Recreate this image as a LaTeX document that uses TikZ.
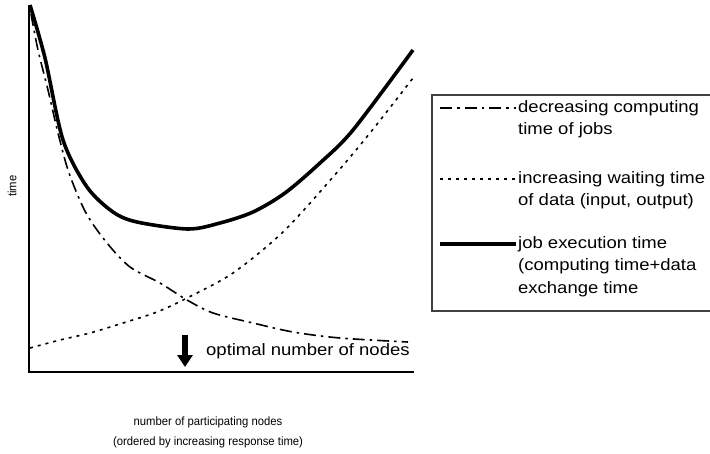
\documentclass[tikz,border=0pt]{standalone}
\usepackage{fontspec}
\setmainfont{Liberation Sans}[FakeStretch=1.12]
\newfontfamily\axisfont{Liberation Sans}[FakeStretch=0.94]
\usetikzlibrary{arrows.meta}

\begin{document}
\begin{tikzpicture}[
    x=1pt, y=-1pt,
    axis/.style={line width=1.8pt},
    computing/.style={line width=1.6pt, dash pattern=on 12pt off 5pt on 2.5pt off 5pt},
    waiting/.style={line width=1.6pt, dash pattern=on 3pt off 5pt},
    execution/.style={line width=3.6pt},
    legtext/.style={anchor=west, align=left, inner sep=0pt, font=\fontsize{16.5}{22.5}\selectfont},
    axlabel/.style={inner sep=0pt, align=center, font=\axisfont\fontsize{12}{20}\selectfont}
]
\useasboundingbox (0,0) rectangle (710,453);

% axes
\coordinate (ytop) at (29,5);
\coordinate (origin) at (29,372);
\coordinate (xend) at (414,372);
\draw[axis] (ytop) -- (origin) -- (xend);
\node[axlabel, rotate=90] (ylabel) at (12,186) {time};
\node[axlabel] (xlabel) at (208,432) {number of participating nodes\\(ordered by increasing response time)};

% curves
\draw[computing] plot[smooth, tension=0.5] coordinates {(31,14) (38,50) (48,90) (58,133) (69,173) (86,213) (107,243) (130,267) (160,283) (187,300) (213,313) (253,323) (293,332) (340,338) (408,342)};
\draw[waiting] plot[smooth, tension=0.5] coordinates {(30,348) (60,340) (90,333) (123,323) (157,312) (187,298) (233,273) (283,232) (333,177) (370,133) (413,78)};
\draw[execution] plot[smooth, tension=0.5] coordinates {(30,5) (45,58) (63,140) (87,187) (113,212) (137,222) (188,229) (220,223) (253,212) (285,193) (320,163) (353,130) (413,50)};

% optimum
\coordinate (arrtop) at (185,335);
\coordinate (arrbot) at (185,367);
\draw[line width=6pt, -{Triangle[width=15pt, length=12pt]}] (arrtop) -- (arrbot);
\node[legtext] (optimum) at (206,351) {optimal number of nodes};

% legend
\draw[line width=1.3pt, black!75] (740,95) -- (432,95) -- (432,311) -- (740,311);
\coordinate (c1a) at (440,108);
\coordinate (c1b) at (516,108);
\draw[computing] (c1a) -- (c1b);
\node[legtext] (leg1) at (518,119.3) {decreasing computing\\time of jobs};
\coordinate (c2a) at (440,179);
\coordinate (c2b) at (516,179);
\draw[waiting] (c2a) -- (c2b);
\node[legtext] (leg2) at (518,190.3) {increasing waiting time\\of data (input, output)};
\coordinate (c3a) at (440,244);
\coordinate (c3b) at (516,244);
\draw[execution] (c3a) -- (c3b);
\node[legtext] (leg3) at (518,266.5) {job execution time\\(computing time+data\\exchange time};
\end{tikzpicture}
\end{document}
